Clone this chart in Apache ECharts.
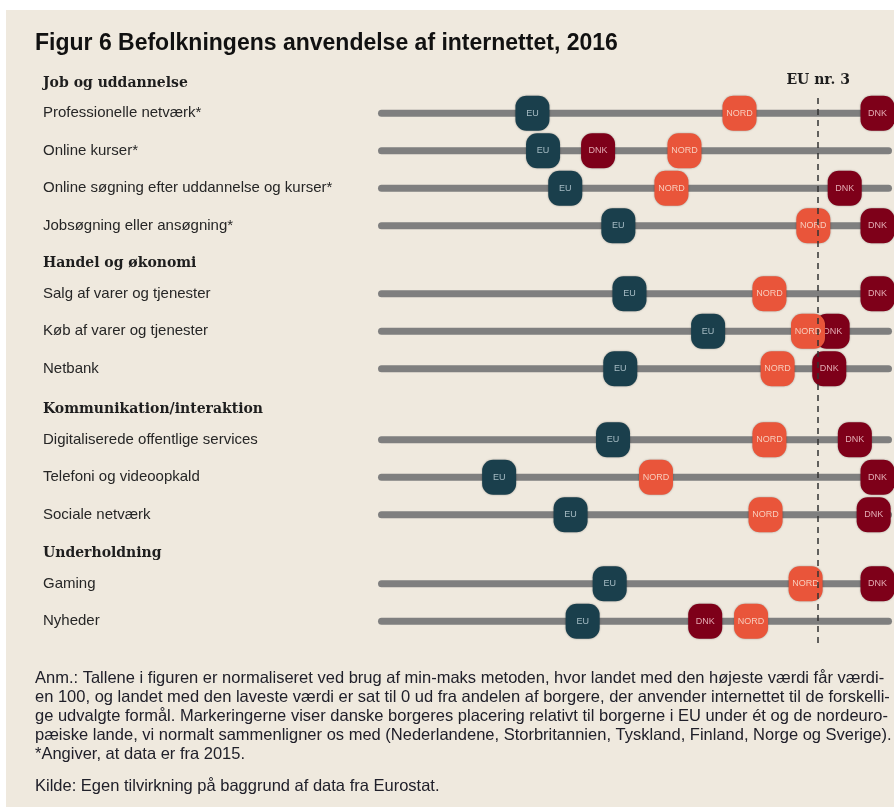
<!DOCTYPE html>
<html>
<head>
<meta charset="utf-8">
<title>Figur 6</title>
<script src="https://cdn.jsdelivr.net/npm/echarts@6/dist/echarts.min.js"></script>
<style>
  html, body { margin: 0; padding: 0; background: #fff; }
  #chart { width: 894px; height: 807px; }
</style>
</head>
<body>
<div id="chart"></div>
<script>
  // values (min-max normalised, 0 = lowest country, 100 = highest)
  var title = 'Figur 6 Befolkningens anvendelse af internettet, 2016'
  var sections = ['Job og uddannelse', 'Handel og økonomi', 'Kommunikation/interaktion', 'Underholdning']
  var categories = [
    'Professionelle netværk*',
    'Online kurser*',
    'Online søgning efter uddannelse og kurser*',
    'Jobsøgning eller ansøgning*',
    'Salg af varer og tjenester',
    'Køb af varer og tjenester',
    'Netbank',
    'Digitaliserede offentlige services',
    'Telefoni og videoopkald',
    'Sociale netværk',
    'Gaming',
    'Nyheder'
  ]
  var sectionOf = [0, 0, 0, 0, 1, 1, 1, 2, 2, 2, 3, 3]
  var euValues = [28.5, 30.7, 35.3, 46.3, 48.6, 64.9, 46.7, 45.2, 21.6, 36.4, 44.5, 38.9]
  var nordValues = [71.4, 60.0, 57.3, 86.7, 77.6, 85.6, 79.3, 77.6, 54.1, 76.8, 85.1, 73.8]
  var dnkValues = [100, 42.1, 93.2, 100, 100, 90.7, 90.0, 95.3, 100, 99.2, 100, 64.3]
  var euRank3 = 87.7
  var euRank3Label = 'EU nr. 3'
  var notes = [
    'Anm.: Tallene i figuren er normaliseret ved brug af min-maks metoden, hvor landet med den højeste værdi får værdi-',
    'en 100, og landet med den laveste værdi er sat til 0 ud fra andelen af borgere, der anvender internettet til de forskelli-',
    'ge udvalgte formål. Markeringerne viser danske borgeres placering relativt til borgerne i EU under ét og de nordeuro-',
    'pæiske lande, vi normalt sammenligner os med (Nederlandene, Storbritannien, Tyskland, Finland, Norge og Sverige).',
    '*Angiver, at data er fra 2015.'
  ]
  var source = 'Kilde: Egen tilvirkning på baggrund af data fra Eurostat.'

  var chart = echarts.init(document.getElementById('chart'))

  var sansFont = 'Liberation Sans, Arial, sans-serif'
  var serifFont = 'DejaVu Serif, serif'
  var rowH = 37.5
  var sectionTops = [94.5, 275, 421, 565]
  var xMin = -3.5
  var xMax = 103

  // rounded marker with its short name written inside
  function marker(fill, textFill, name) {
    return function (params, api) {
      var p = api.coord([api.value(0), api.value(1)])
      return {
        type: 'group',
        children: [{
          type: 'rect',
          shape: { x: p[0] - 17, y: p[1] - 17.5, width: 34, height: 35, r: 11 },
          style: { fill: fill, shadowBlur: 2, shadowColor: 'rgba(0,0,0,0.35)' }
        }, {
          type: 'text',
          x: p[0],
          y: p[1],
          style: { text: name, fill: textFill, font: '9px ' + sansFont, align: 'center', verticalAlign: 'middle' }
        }]
      }
    }
  }

  function track(params, api) {
    var y = api.coord([0, api.value(1)])[1]
    var cs = params.coordSys
    return {
      type: 'rect',
      shape: { x: cs.x, y: y - 3.5, width: cs.width, height: 7, r: 3.5 },
      style: { fill: '#7f7f7f' }
    }
  }

  var grids = [], xAxes = [], yAxes = [], series = [], graphics = []

  graphics.push({
    type: 'rect', z: -10,
    shape: { x: 6, y: 10, width: 888, height: 797 },
    style: { fill: '#efe9de' }
  })

  sections.forEach(function (name, s) {
    var rows = []
    sectionOf.forEach(function (sec, i) { if (sec === s) rows.push(i) })
    grids.push({ left: 378, right: 2, top: sectionTops[s], height: rows.length * rowH })
    xAxes.push({ gridIndex: s, type: 'value', min: xMin, max: xMax, show: false })
    yAxes.push({
      gridIndex: s,
      type: 'category',
      inverse: true,
      data: rows.map(function (i) { return categories[i] }),
      axisLine: { show: false },
      axisTick: { show: false },
      splitLine: { show: false },
      axisLabel: {
        margin: 335, align: 'left', color: '#262626',
        fontSize: 15, fontFamily: sansFont, padding: [0, 0, 6, 0]
      }
    })
    graphics.push({
      type: 'text',
      x: 43,
      y: sectionTops[s] - 11.25,
      style: {
        text: name, fill: '#1e1e1e', font: 'bold 14px ' + serifFont,
        verticalAlign: 'middle'
      }
    })

    var common = { type: 'custom', xAxisIndex: s, yAxisIndex: s, silent: true, animation: false }
    series.push(Object.assign({}, common, {
      z: 1, renderItem: track,
      data: rows.map(function (i, k) { return [0, k] })
    }))
    series.push(Object.assign({}, common, {
      z: 2, renderItem: marker('#1a3f4c', '#a7bcc4', 'EU'),
      data: rows.map(function (i, k) { return [euValues[i], k] })
    }))
    series.push(Object.assign({}, common, {
      z: 3, renderItem: marker('#7e0019', '#e2aab3', 'DNK'),
      data: rows.map(function (i, k) { return [dnkValues[i], k] })
    }))
    series.push(Object.assign({}, common, {
      z: 4, renderItem: marker('#e9553a', '#f8cdbd', 'NORD'),
      data: rows.map(function (i, k) { return [nordValues[i], k] })
    }))
  })

  // overlay grid carrying the "EU nr. 3" reference line across all sections
  var ov = sections.length
  grids.push({ left: 378, right: 2, top: 96, bottom: 164 })
  xAxes.push({ gridIndex: ov, type: 'value', min: xMin, max: xMax, show: false })
  yAxes.push({ gridIndex: ov, type: 'value', min: 0, max: 1, show: false })
  series.push({
    type: 'scatter', xAxisIndex: ov, yAxisIndex: ov, z: 10,
    symbolSize: 0, silent: true, animation: false,
    data: [[euRank3, 0]],
    markLine: {
      silent: true,
      animation: false,
      symbol: ['none', 'none'],
      lineStyle: { color: '#333', width: 1.5, type: [6, 5] },
      label: {
        show: true, position: 'end', distance: 9,
        formatter: euRank3Label, color: '#1e1e1e',
        fontFamily: serifFont, fontWeight: 'bold', fontSize: 14
      },
      data: [{ xAxis: euRank3 }]
    }
  })

  graphics.push({
    type: 'text', x: 35, y: 668.5,
    style: { text: notes.join('\n'), fill: '#20202a', font: '16.5px ' + sansFont, lineHeight: 19 }
  })
  graphics.push({
    type: 'text', x: 35, y: 776.5,
    style: { text: source, fill: '#20202a', font: '16.5px ' + sansFont, lineHeight: 19 }
  })

  chart.setOption({
    backgroundColor: '#fff',
    animation: false,
    title: {
      text: title, left: 35, top: 32, padding: 0,
      textStyle: { fontSize: 23, fontWeight: 'bold', color: '#111', fontFamily: sansFont }
    },
    grid: grids,
    xAxis: xAxes,
    yAxis: yAxes,
    graphic: graphics,
    series: series
  })
</script>
</body>
</html>
